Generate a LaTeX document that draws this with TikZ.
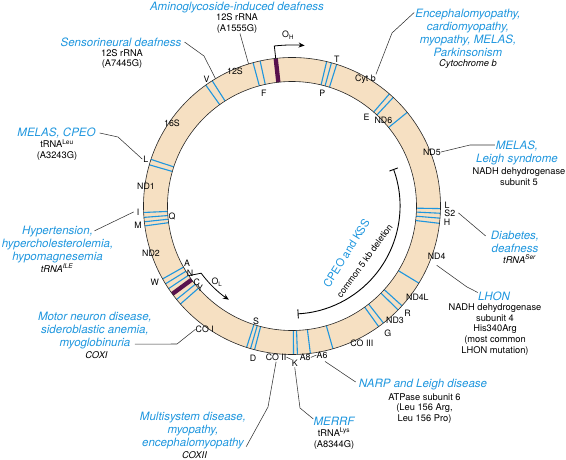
\documentclass[tikz,border=0pt]{standalone}
\usepackage{fontspec}
\setmainfont{TeX Gyre Heros}
\usepackage{tikz}
\usetikzlibrary{arrows.meta}
\usetikzlibrary{positioning}
\definecolor{mitoblue}{RGB}{30,150,222}
\definecolor{ringfill}{RGB}{246,224,194}
\definecolor{oripurple}{RGB}{88,18,78}
\newcommand{\ringin}{124.5}
\newcommand{\ringout}{148.5}
\tikzset{Ring/.style={draw=black!85, line width=0.6pt},
         Gene/.style={draw=mitoblue, line width=1.1pt},
         Ori/.style={draw=oripurple, line width=4.3pt},
         Orig/.style={draw=black, line width=0.8pt, -{Stealth[length=6pt, width=5pt]}},
         Site/.style={inner sep=0pt, font=\fontsize{8.8}{10}\selectfont},
         Dis/.style={inner sep=0pt, align=center, text=mitoblue, font=\fontsize{11.5}{13}\selectfont\itshape},
         Info/.style={inner sep=0pt, align=center, font=\fontsize{9.3}{10.8}\selectfont},
         InfoIt/.style={Info, font=\fontsize{9.3}{10.8}\selectfont\itshape},
         Lead/.style={draw=black!80, line width=0.55pt},
         Del/.style={draw=black, line width=0.9pt, {Bar[width=9pt]}-{Bar[width=9pt]}}}
\begin{document}
\begin{tikzpicture}[x=1pt, y=1pt]
  \useasboundingbox (-292,206) rectangle (274,-253);
  \fill[ringfill, even odd rule] (0,0) circle (\ringout) (0,0) circle (\ringin);
  \foreach \a in {72.5, 74.6, 76.5, 47, 49, 39.1, 102.4, 105.2, 122.5, 125.5,
                  161.7, 163.9, 182.5, 184.4, 186.1, 187.7, 209.4, 211.6, 213.8, 219, 221.3,
                  -1, -2.8, -4.7, -6.7, -31.3, -42.2, -44.4, -52, -54.3,
                  -74, -82.9, -87.9, -89.4, -104.6, -106.2, -107.8}
    \draw[Gene] (\a:\ringin) -- (\a:\ringout);
  \draw[Ori] (96.3:\ringin) -- (96.3:\ringout);
  \draw[Ori] (216.3:\ringin) -- (216.3:\ringout);
  \draw[Ring] (0,0) circle (\ringout) (0,0) circle (\ringin);
  \draw[Orig] (96.3:\ringout) -- (96.3:161) arc[start angle=96.3, end angle=85.5, radius=161];
  \draw[Orig] (214:\ringin) -- (216.5:113) arc[start angle=216.5, end angle=236, radius=113];
    \node[Site] (oh) at (91.3:171) {O\textsubscript{H}};
    \node[Site] (ol) at (225.4:106.8) {O\textsubscript{L}};
    \node[Site] (s12) at (113:146) {12S};
    \node[Site] (v) at (124:153) {V};
    \node[Site] (f) at (104:116) {F};
    \node[Site] (t) at (73:153) {T};
    \node[Site] (p) at (75:117) {P};
    \node[Site] (cytb) at (60:147) {Cyt b};
    \node[Site] (e) at (50:116) {E};
    \node[Site] (nd6) at (43:125) {ND6};
    \node[Site] (nd5) at (21.1:150) {ND5};
    \node[Site] (lr) at (0.4:155) {L};
    \node[Site] (s2) at (-2.5:158) {S2};
    \node[Site] (h) at (-6:156) {H};
    \node[Site] (nd4) at (-19:153) {ND4};
    \node[Site] (nd4l) at (-36:155) {ND4L};
    \node[Site] (r) at (-43:158) {R};
    \node[Site] (nd3) at (-48:154) {ND3};
    \node[Site] (g) at (-53:159) {G};
    \node[Site] (co3) at (-63:154) {CO III};
    \node[Site] (a6) at (-78.6:152) {A6};
    \node[Site] (a8) at (-85:152) {A8};
    \node[Site] (k) at (-89:157) {K};
    \node[Site] (co2) at (-96:152) {CO II};
    \node[Site] (d) at (-104.4:157) {D};
    \node[Site] (s) at (-107.3:121) {S};
    \node[Site] (co1) at (-125.3:151) {CO I};
    \node[Site] (y) at (221.7:123) {Y};
    \node[Site] (c) at (218.7:122) {C};
    \node[Site] (n) at (213.3:122) {N};
    \node[Site] (a) at (208.5:119.5) {A};
    \node[Site] (w) at (209:157) {W};
    \node[Site] (nd2) at (198.4:148.6) {ND2};
    \node[Site] (m) at (187:155) {M};
    \node[Site] (q) at (185.2:120.5) {Q};
    \node[Site] (i) at (182.2:154) {I};
    \node[Site] (nd1) at (172.2:147.4) {ND1};
    \node[Site] (ll) at (162.2:153.4) {L};
    \node[Site] (s16) at (145.3:146) {16S};
  \draw[Del] (20:108) arc[start angle=20, end angle=-87, radius=108];
    \node[rotate=58, inner sep=0pt, text=mitoblue, font=\fontsize{11}{12}\selectfont] (kss) at (-41:72) {CPEO and KSS};
    \node[rotate=54, inner sep=0pt, font=\fontsize{9}{10}\selectfont] (del5kb) at (-37:91) {common 5 kb deletion};
    \node[Dis] (amino) at (-55,198.5) {Aminoglycoside-induced deafness};
    \node[Info] (amino12s) at (-55,182.5) {12S rRNA\\(A1555G)};
    \node[Dis] (sens) at (-171,164) {Sensorineural deafness};
    \node[Info] (sens12s) at (-170,147) {12S rRNA\\(A7445G)};
    \node[Dis] (enceph) at (176,173) {Encephalomyopathy,\\cardiomyopathy,\\myopathy, MELAS,\\Parkinsonism};
    \node[InfoIt] (cytbinfo) at (176,142) {Cytochrome b};
    \node[Dis] (leigh) at (225,53.5) {MELAS,\\Leigh syndrome};
    \node[Info] (nadh5) at (227,29.5) {NADH dehydrogenase\\subunit 5};
    \node[Dis] (diab) at (223,-36) {Diabetes,\\deafness};
    \node[InfoIt] (trnaser) at (227.5,-53) {tRNA\textsuperscript{Ser}};
    \node[Dis] (lhon) at (202,-90.5) {LHON};
    \node[Info] (nadh4) at (203,-123.5) {NADH dehydrogenase\\subunit 4\\His340Arg\\(most common\\LHON mutation)};
    \node[Dis] (narp) at (131,-179) {NARP and Leigh disease};
    \node[Info] (atp6) at (132.5,-202.5) {ATPase subunit 6\\(Leu 156 Arg,\\Leu 156 Pro)};
    \node[Dis] (merrf) at (42,-215) {MERRF};
    \node[Info] (trnalys) at (42,-232.5) {tRNA\textsuperscript{Lys}\\(A8344G)};
    \node[Dis] (multi) at (-99,-225) {Multisystem disease,\\myopathy,\\encephalomyopathy};
    \node[InfoIt] (coxii) at (-97.5,-249) {COXII};
    \node[Dis] (motor) at (-197,-124.5) {Motor neuron disease,\\sideroblastic anemia,\\myoglobinuria};
    \node[InfoIt] (coxi) at (-195.5,-149) {COXI};
    \node[Dis] (hyper) at (-234.5,-38.5) {Hypertension,\\hypercholesterolemia,\\hypomagnesemia};
    \node[InfoIt] (trnaile) at (-235,-62) {tRNA\textsuperscript{ILE}};
    \node[Dis] (melas) at (-235.5,73) {MELAS, CPEO};
    \node[Info] (trnaleu) at (-235,56) {tRNA\textsuperscript{Leu}\\(A3243G)};
  \coordinate (rrna12) at (107:\ringout);
  \coordinate (vsite) at (121:\ringout);
  \coordinate (leighin) at (203,61);
  \draw[Lead] ([xshift=3pt]amino12s.south) -- (rrna12);
  \draw[Lead] ([xshift=3pt]sens.east) -- (-88,150) -- (vsite);
  \draw[Lead] ([shift={(-1pt,-3.5pt)}]enceph.north west) -- (100,173) -- (cytb.north east);
  \draw[Lead] (nd5.east) -- (178,61) -- (leighin);
  \draw[Lead] ([xshift=3pt]s2.east) -- ([shift={(-5pt,6pt)}]diab.west);
  \draw[Lead] ([yshift=-6pt]nd4.south) -- (175,-81) -- ([yshift=4pt]lhon.west);
  \draw[Lead] ([shift={(3pt,-3pt)}]a6.south) -- ([shift={(-3pt,3pt)}]narp.west);
  \draw[Lead] ([yshift=-1pt]k.south) -- (8,-202) -- ([yshift=2pt]merrf.west);
  \draw[Lead] ([yshift=-1pt]co2.south) -- (-24,-201) -- ([yshift=3pt]multi.south east);
  \draw[Lead] ([shift={(40pt,5pt)}]motor.south) -- (-115,-138) -- (co1.west);
  \draw[Lead] ([shift={(37pt,-5pt)}]hyper.north) -- ([xshift=-3pt]i.west);
  \draw[Lead] ([xshift=4pt]melas.east) -- (-174,69) -- ([xshift=-1pt]ll.west);
  \draw[Lead] (co2.east) -- (k.north west);
  \draw[Lead] (a8.east) -- (a6.west);
\end{tikzpicture}
\end{document}
